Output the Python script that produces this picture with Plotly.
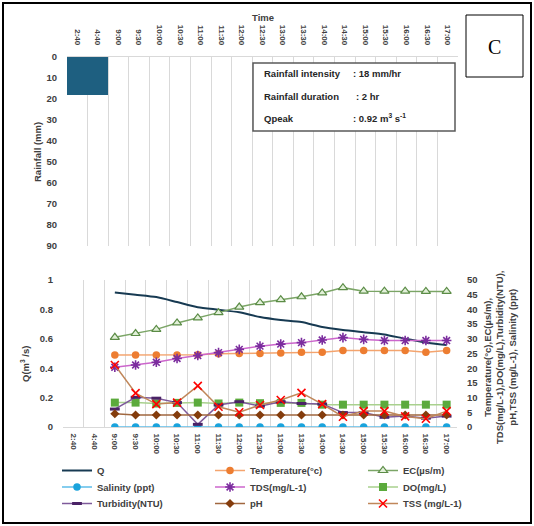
import plotly.graph_objects as go

# ---- data -----------------------------------------------------------------
times = ["2:40", "4:40", "9:00", "9:30", "10:00", "10:30", "11:00", "11:30",
         "12:00", "12:30", "13:00", "13:30", "14:00", "14:30", "15:00",
         "15:30", "16:00", "16:30", "17:00"]

rain_times = ["2:40", "4:40"]
rain_mm = [18, 18]

sample_times = times[2:]

q_flow = [0.915, 0.900, 0.884, 0.850, 0.815, 0.798, 0.780, 0.748, 0.728,
          0.714, 0.680, 0.660, 0.645, 0.630, 0.600, 0.575, 0.557]
temperature = [24.5, 24.5, 24.5, 24.5, 24.6, 24.9, 25.0, 25.0, 25.2, 25.4,
               25.4, 26.0, 26.0, 26.0, 26.0, 25.4, 26.0]
ec = [30.5, 31.8, 33.2, 35.4, 37.1, 38.9, 40.8, 42.3, 43.3, 44.3, 45.6,
      47.4, 46.2, 46.2, 46.2, 46.1, 46.1]
salinity = [0, 0, 0, 0, 0, 0, 0, 0, 0, 0, 0, 0, 0, 0, 0, 0, 0]
tds = [20.3, 21.1, 22.0, 23.3, 24.3, 25.3, 26.4, 27.5, 28.2, 28.7, 29.6,
       30.4, 29.8, 29.4, 29.4, 29.4, 29.4]
do = [8.3, 8.3, 8.0, 8.2, 8.3, 8.0, 8.3, 8.1, 8.2, 8.2, 7.6, 7.6, 7.6, 7.6,
      7.6, 7.6, 7.6]
turbidity = [6.1, 10.1, 9.8, 8.3, 0.9, 7.5, 8.6, 7.1, 8.6, 8.0, 7.8, 4.9,
             4.9, 3.3, 3.7, 3.0, 3.7]
ph = [4.5, 4.1, 4.1, 4.1, 4.1, 4.1, 4.1, 4.1, 4.1, 4.1, 4.1, 4.1, 4.1, 4.1,
      4.1, 4.1, 4.1]
tss = [21.1, 11.5, 7.8, 8.3, 14.0, 6.9, 5.0, 7.5, 9.2, 11.6, 7.8, 3.5, 5.4,
       5.4, 3.6, 2.8, 5.4]

# ---- page geometry (margins are zero, so paper units map to pixels) --------
W, H = 534, 526


def fx(px):
    return px / W


def fy(px):
    return 1 - px / H


FONT = "Liberation Sans, Arial, sans-serif"
INK = "#404040"
GRID = "#D9D9D9"
tick_font = dict(family=FONT, size=9.5, color=INK, weight="bold")
time_font = dict(family=FONT, size=8, color=INK, weight="bold")

fig = go.Figure()

# rainfall hyetograph (top panel)
fig.add_trace(go.Bar(
    x=rain_times, y=rain_mm, xaxis="x", yaxis="y",
    marker=dict(color="#1E5F80", line=dict(width=0)),
    showlegend=False, hoverinfo="skip"))

# discharge on the left axis
fig.add_trace(go.Scatter(
    x=sample_times, y=q_flow, xaxis="x2", yaxis="y2", name="Q",
    mode="lines", line=dict(color="#173A52", width=2, shape="spline",
                            smoothing=0.6),
    legend="legend"))

# water-quality parameters on the right axis
quality = [
    ("Temperature(°c)", temperature, "#F4A46E", 1.5,
     dict(symbol="circle", size=7.5, color="#ED7D31"), "legend"),
    ("EC(µs/m)", ec, "#7BA566", 1.5,
     dict(symbol="triangle-up", size=8, color="#E2F0D9",
          line=dict(color="#5B8C46", width=1.2)), "legend"),
    ("Salinity (ppt)", salinity, "#5DBCE8", 1.5,
     dict(symbol="circle", size=7.5, color="#1AA3DC"), "legend2"),
    ("TDS(mg/L-1)", tds, "#CC66CC", 1.5,
     dict(symbol="asterisk-open", size=8, color="#7B2C9E",
          line=dict(color="#7B2C9E", width=1.6)), "legend2"),
    ("DO(mg/L)", do, "#A9D18E", 1.5,
     dict(symbol="square", size=8, color="#5BAA3C"), "legend2"),
    ("Turbidity(NTU)", turbidity, "#7E5A9B", 1.5,
     dict(symbol="line-ew-open", size=7, color="#4A2266",
          line=dict(color="#4A2266", width=3)), "legend3"),
    ("pH", ph, "#A0673F", 1.5,
     dict(symbol="diamond", size=7, color="#843C0C"), "legend3"),
    ("TSS (mg/L-1)", tss, "#C0875A", 1.5,
     dict(symbol="x-thin-open", size=8, color="#FF0000",
          line=dict(color="#FF0000", width=1.6)), "legend3"),
]
for name, vals, lcol, lw, mk, leg in quality:
    fig.add_trace(go.Scatter(
        x=sample_times, y=vals, xaxis="x2", yaxis="y3", name=name,
        mode="lines+markers", line=dict(color=lcol, width=lw),
        marker=mk, legend=leg))

cat_axis = dict(type="category", categoryorder="array", categoryarray=times,
                range=[-0.5, len(times) - 0.5], tickson="boundaries",
                showgrid=True, gridcolor=GRID, gridwidth=1, ticks="",
                tickangle=90, tickfont=time_font, showline=True,
                linecolor=GRID, linewidth=1, zeroline=False,
                automargin=False, fixedrange=True)

legend_common = dict(orientation="h", x=fx(57), xanchor="left",
                     yanchor="middle", entrywidth=108,
                     entrywidthmode="pixels", itemwidth=30,
                     bgcolor="rgba(0,0,0,0)", borderwidth=0,
                     font=dict(family=FONT, size=9.5, color=INK,
                               weight="bold"))

fig.update_layout(
    width=W, height=H, autosize=False,
    margin=dict(l=0, r=0, t=0, b=0, pad=0),
    paper_bgcolor="white", plot_bgcolor="white",
    bargap=0, showlegend=True,
    xaxis=dict(cat_axis, domain=[fx(67), fx(458)], anchor="y", side="top",
               ticklabelstandoff=8),
    yaxis=dict(domain=[fy(246), fy(57)], anchor="x", range=[90, 0],
               dtick=10, tick0=0, tickfont=tick_font, showgrid=False,
               zeroline=False, showline=False, ticks="",
               ticklabelstandoff=9, automargin=False),
    xaxis2=dict(cat_axis, domain=[fx(63), fx(457)], anchor="y2",
                side="bottom", ticklabelstandoff=4),
    yaxis2=dict(domain=[fy(427), fy(280)], anchor="x2", range=[0, 1],
                dtick=0.2, tick0=0, tickfont=tick_font, showgrid=False,
                zeroline=False, showline=False, ticks="",
                ticklabelstandoff=9, automargin=False),
    yaxis3=dict(overlaying="y2", anchor="x2", side="right", range=[0, 50],
                dtick=5, tick0=0, tickfont=tick_font, showgrid=False,
                zeroline=False, showline=False, ticks="",
                ticklabelstandoff=9, automargin=False),
    legend=dict(legend_common, y=fy(470.5)),
    legend2=dict(legend_common, y=fy(487)),
    legend3=dict(legend_common, y=fy(503.5)),
)

# frame, info box and panel letter box
fig.add_shape(type="rect", xref="paper", yref="paper",
              x0=fx(3), x1=fx(531), y0=fy(523), y1=fy(3),
              line=dict(color="black", width=2), fillcolor="rgba(0,0,0,0)",
              layer="above")
fig.add_shape(type="rect", xref="paper", yref="paper",
              x0=fx(253), x1=fx(455), y0=fy(131), y1=fy(63),
              line=dict(color="#595959", width=1.5), fillcolor="white",
              layer="above")
fig.add_shape(type="rect", xref="paper", yref="paper",
              x0=fx(466), x1=fx(523), y0=fy(77), y1=fy(15),
              line=dict(color="black", width=1), fillcolor="white",
              layer="above")

title_font = dict(family=FONT, size=9.5, color=INK, weight="bold")
box_font = dict(family=FONT, size=9.5, color="#262626", weight="bold")


def note(text, x, y, font, xanchor="center", angle=0):
    fig.add_annotation(text=text, xref="paper", yref="paper", x=fx(x),
                       y=fy(y), xanchor=xanchor, yanchor="middle",
                       showarrow=False, font=font, textangle=angle,
                       align="center")


note("Time", 263, 18, title_font)
note("Rainfall (mm)", 37, 152, title_font, angle=-90)
note("Q(m<sup>3</sup> /s)", 25, 364, title_font, angle=-90)
note("Temperature(°c),EC(µs/m),<br>TDS(mg/L-1),DO(mg/L),Turbidity(NTU),"
     "<br>pH,TSS (mg/L-1), Salinity (ppt)", 500, 358, title_font, angle=-90)

note("Rainfall intensity", 262, 73, box_font, xanchor="left")
note(": 18 mm/hr", 351, 73, box_font, xanchor="left")
note("Rainfall duration", 262, 96, box_font, xanchor="left")
note(": 2 hr", 354, 96, box_font, xanchor="left")
note("Qpeak", 262, 118, box_font, xanchor="left")
note(": 0.92 m<sup>3</sup> s<sup>-1</sup>", 351, 118, box_font,
     xanchor="left")

note("C", 494, 47, dict(family="Liberation Serif, Times New Roman, serif",
                        size=20, color="black"))

fig.write_html("out.html")
